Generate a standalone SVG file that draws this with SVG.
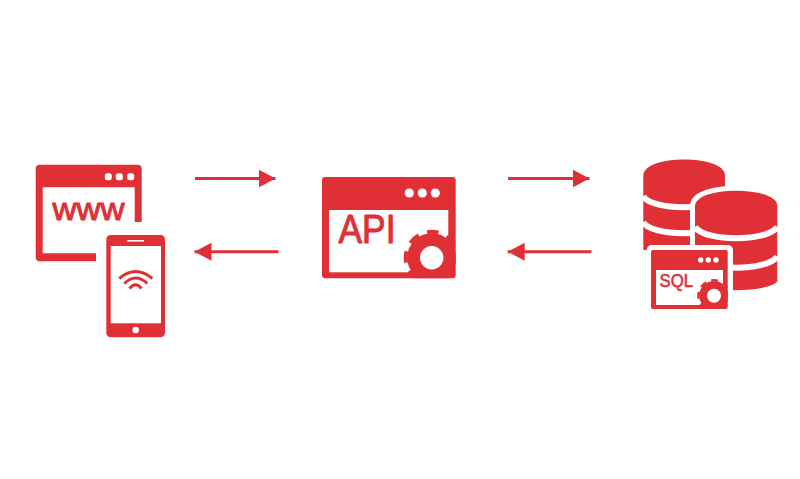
<svg xmlns="http://www.w3.org/2000/svg" width="800" height="479" viewBox="0 0 800 479">
<style>
.r{fill:#e03036}
.w{fill:#fff}
.t{fill:#e03036;stroke:#e03036;stroke-linejoin:round;font-family:"Liberation Sans",Arial,sans-serif}
.c{stroke:#e03036;stroke-width:3;fill:none;marker-end:url(#head)}
.wf{stroke:#e03036;stroke-width:3;fill:none}
.band{stroke:#fff;stroke-width:6;fill:none}
</style>
<defs>
<marker id="head" markerUnits="userSpaceOnUse" markerWidth="18" markerHeight="19" refX="17" refY="9" orient="auto">
<polygon points="0,0 17,9 0,18" fill="#e03036"/>
</marker>
<g id="gear">
<circle r="24.500" class="r"/>
<circle r="26" fill="none" stroke="#e03036" stroke-width="4" stroke-linejoin="round" stroke-dasharray="11.500 8.920" transform="rotate(-12)"/>
</g>
<clipPath id="apiClip"><rect x="322" y="177" width="133.700" height="101.300" rx="3"/></clipPath>
<clipPath id="sqlClip"><rect x="651" y="250" width="76.700" height="59" rx="2"/></clipPath>
</defs>

<g id="connectors">
<path class="c" d="M195 178.500H275.500"/>
<path class="c" d="M278.500 251.700H194.500"/>
<path class="c" d="M508 178.500H589.500"/>
<path class="c" d="M591.500 251.700H507.700"/>
</g>

<g id="web-client">
<path class="r" d="M39.700 164.700H137.700a4 4 0 0 1 4 4V222H134.700V187.300H42.700V253.300H96V261.300H39.700a4 4 0 0 1 -4 -4V168.700a4 4 0 0 1 4 -4Z"/>
<rect class="w" x="104.800" y="173.200" width="7" height="7" rx="2.500"/><rect class="w" x="115.800" y="173.200" width="7" height="7" rx="2.500"/><rect class="w" x="127.200" y="173.200" width="7" height="7" rx="2.500"/>
<text class="t" x="52.500" y="219.500" font-size="32" stroke-width="1" textLength="72" lengthAdjust="spacingAndGlyphs">www</text>
</g>

<g id="mobile-client">
<rect class="r" x="106.300" y="235" width="58.700" height="102.300" rx="4.500"/>
<rect class="w" x="110.700" y="246" width="50.300" height="77.300"/>
<rect class="w" x="127.300" y="240" width="16.700" height="1.600"/>
<circle class="w" cx="135.700" cy="330" r="3.200"/>
<path class="wf" d="M119.300 278.500Q135.700 264.500 152.300 278.500"/>
<path class="wf" d="M124.300 283.500Q135.700 272.500 147.300 283.500"/>
<path class="wf" d="M129.500 288.500Q135.700 281 141.500 288.500"/>
</g>

<g id="api">
<rect class="r" x="322" y="177" width="133.700" height="101.300" rx="3"/>
<rect class="w" x="329" y="210" width="119.300" height="62.300"/>
<circle class="w" cx="409.300" cy="193" r="4.600"/><circle class="w" cx="422.300" cy="193" r="4.600"/><circle class="w" cx="435.300" cy="193" r="4.600"/>
<text class="t" x="338.500" y="243.200" font-size="40" stroke-width="1" textLength="57" lengthAdjust="spacingAndGlyphs">API</text>
<g clip-path="url(#apiClip)"><use href="#gear" transform="translate(431.700 257.700)"/></g>
<circle class="w" cx="431.700" cy="257.700" r="11.700"/>
</g>

<g id="database">
<path class="r" d="M643.300 175.500C643.300 154 725 154 725 175.500V250H643.300Z"/>
<path class="band" d="M643.300 196C650 211 718 211 725 196"/>
<path class="band" d="M643.300 222C650 237 718 237 725 222"/>
<path class="r" d="M695 206C695 185.500 777.300 185.500 777.300 206V281.700C765 293 707 293 695 281.700Z" stroke="#fff" stroke-width="10" paint-order="stroke"/>
<path class="band" d="M695 227C705 242 767 242 777.300 227"/>
<path class="band" d="M695 256.500C705 271.500 767 271.500 777.300 256.500"/>
<rect class="w" x="646.700" y="245" width="86.300" height="68" rx="5"/>
<rect class="r" x="651" y="250" width="76.700" height="59" rx="2"/>
<rect class="w" x="656" y="270" width="67" height="35"/>
<circle class="w" cx="700.700" cy="260" r="2.700"/><circle class="w" cx="708.300" cy="260" r="2.700"/><circle class="w" cx="716" cy="260" r="2.700"/>
<text class="t" x="659.500" y="286.500" font-size="19" stroke-width=".6" textLength="33.500" lengthAdjust="spacingAndGlyphs">SQL</text>
<g clip-path="url(#sqlClip)"><use href="#gear" transform="translate(714 295.700) scale(.6)"/></g>
<circle class="w" cx="714" cy="295.700" r="7"/>
</g>
</svg>
